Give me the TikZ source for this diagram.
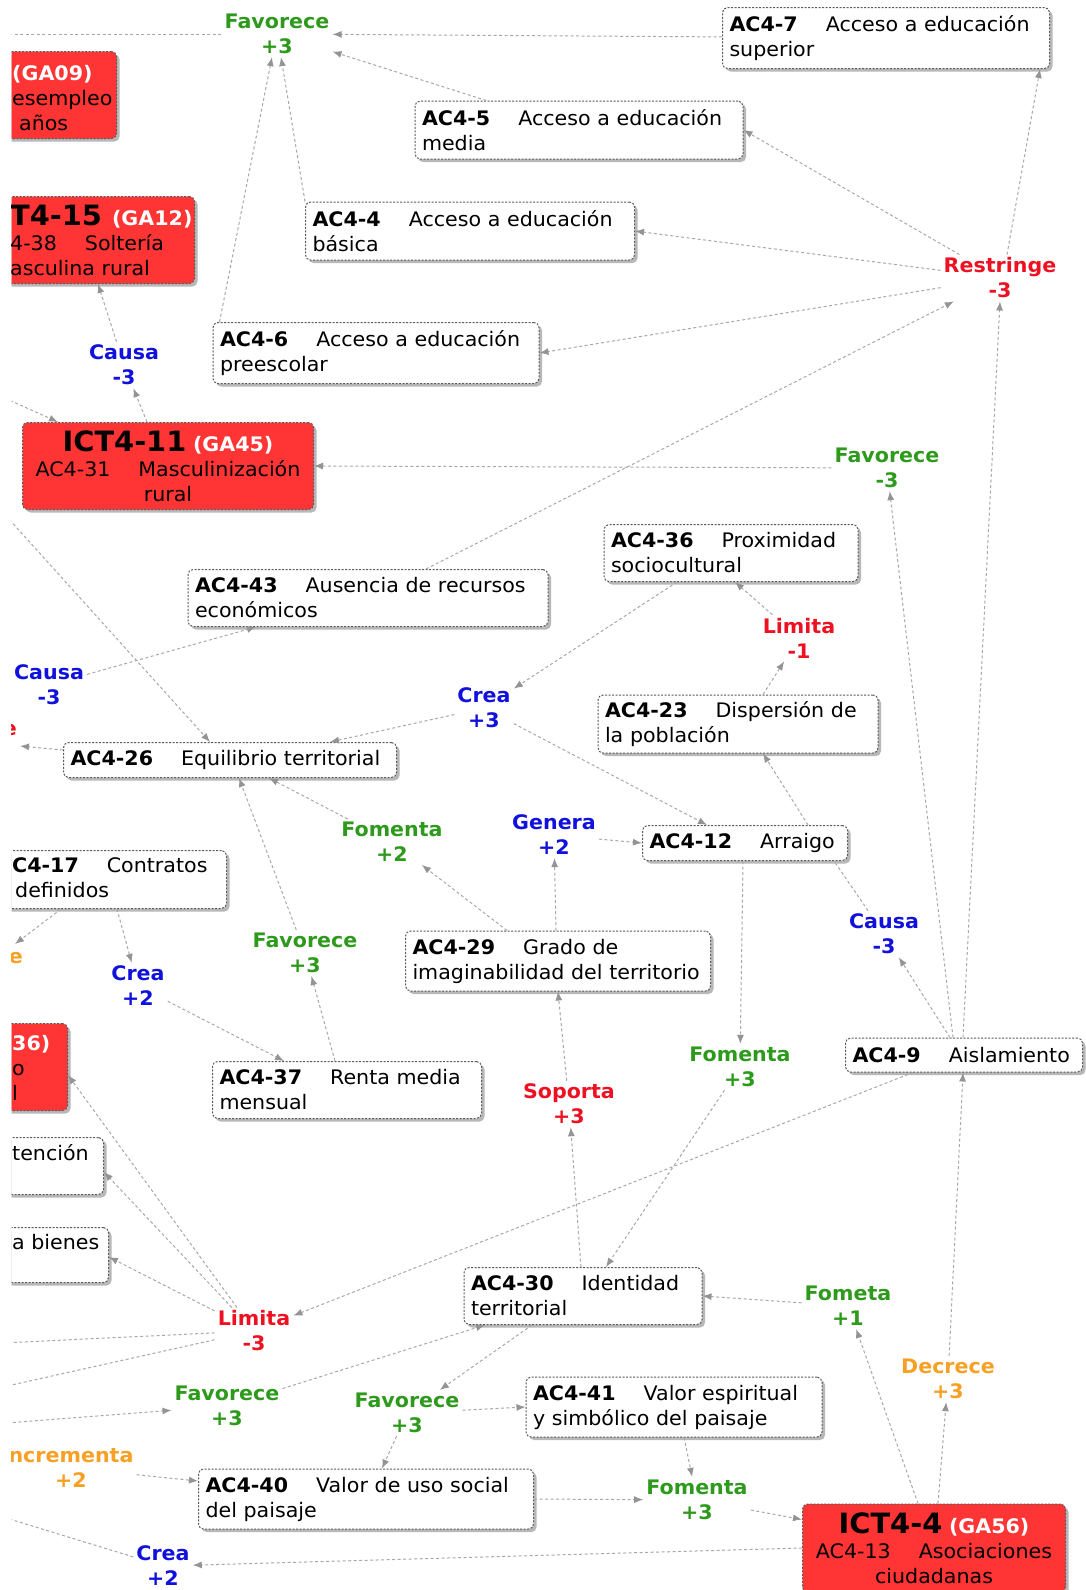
\documentclass[tikz,border=0pt]{standalone}
\usepackage{fontspec}
\setmainfont{DejaVu Sans}[FakeStretch=1.03]
\usetikzlibrary{arrows.meta,calc,shadows}
\definecolor{conceptred}{HTML}{FF3535}
\definecolor{boxline}{HTML}{5A5A5A}
\definecolor{linkgray}{HTML}{A8A8A8}
\definecolor{tipgray}{HTML}{949494}
\definecolor{lgreen}{HTML}{2E9A1C}
\definecolor{lblue}{HTML}{1111DD}
\definecolor{lred}{HTML}{EE1122}
\definecolor{lorange}{HTML}{F7A024}
\newcommand{\idgap}{\hspace{28pt}}
\newcommand{\ictfont}{\fontsize{28}{30}\selectfont\bfseries}
\newcommand{\gacode}[1]{{\color{white}\bfseries #1}}

\begin{document}
\begin{tikzpicture}[
  x=1pt, y=-1pt,
  font=\fontsize{20}{25}\selectfont,
  acbox/.style={
    draw=boxline,
    fill=white,
    rounded corners=5pt,
    line width=1pt,
    dash pattern=on 2pt off 1.5pt,
    inner xsep=7pt,
    inner ysep=4pt,
    align=left,
    drop shadow={shadow xshift=3pt, shadow yshift=-3pt, fill=black!28, opacity=1}
  },
  ictbox/.style={acbox, fill=conceptred, align=center},
  cuttext/.style={inner sep=0pt, align=left},
  link/.style={font=\fontsize{20}{25}\selectfont\bfseries, align=center, inner sep=3pt},
  rel/.style={
    draw=linkgray,
    line width=1pt,
    dash pattern=on 3pt off 2.5pt,
    -{Latex[length=9pt,width=7pt,color=tipgray]}
  },
  relline/.style={draw=linkgray, line width=1pt, dash pattern=on 3pt off 2.5pt}
]

  \useasboundingbox (0,0) rectangle (1086,1590);
  \fill[white] (0,0) rectangle (1086,1590);
  \clip (11.5,0) rectangle (1086,1590);

  % --- Concepts: access to education ---
  \node[acbox, text width=313pt, minimum height=61pt] (ac7) at (886,38)
    {\textbf{AC4-7}\idgap Acceso a educación\\superior};
  \node[acbox, text width=314pt, minimum height=58pt] (ac5) at (579,130)
    {\textbf{AC4-5}\idgap Acceso a educación\\media};
  \node[acbox, text width=315pt, minimum height=58pt] (ac4) at (470,231)
    {\textbf{AC4-4}\idgap Acceso a educación\\básica};
  \node[acbox, text width=312pt, minimum height=61pt] (ac6) at (376,353)
    {\textbf{AC4-6}\idgap Acceso a educación\\preescolar};

  % --- Concepts: middle of the map ---
  \node[acbox, text width=346pt, minimum height=57pt] (ac43) at (368,598)
    {\textbf{AC4-43}\idgap Ausencia de recursos\\económicos};
  \node[acbox, text width=240pt, minimum height=57pt] (ac36) at (731,553)
    {\textbf{AC4-36}\idgap Proximidad\\sociocultural};
  \node[acbox, text width=266pt, minimum height=58pt] (ac23) at (738,724)
    {\textbf{AC4-23}\idgap Dispersión de\\la población};
  \node[acbox, text width=319pt, minimum height=35pt] (ac26) at (230,760)
    {\textbf{AC4-26}\idgap Equilibrio territorial};
  \node[acbox, text width=191pt, minimum height=35pt] (ac12) at (745,843)
    {\textbf{AC4-12}\idgap Arraigo};
  \node[acbox, text width=291pt, minimum height=60pt] (ac29) at (558,961)
    {\textbf{AC4-29}\idgap Grado de\\imaginabilidad del territorio};
  \node[acbox, text width=223pt, minimum height=34pt] (ac9) at (964,1055)
    {\textbf{AC4-9}\idgap Aislamiento};
  \node[acbox, text width=255pt, minimum height=57pt] (ac37) at (347,1090)
    {\textbf{AC4-37}\idgap Renta media\\mensual};

  % --- Concepts: landscape ---
  \node[acbox, text width=224pt, minimum height=57pt] (ac30) at (583,1296)
    {\textbf{AC4-30}\idgap Identidad\\territorial};
  \node[acbox, text width=282pt, minimum height=60pt] (ac41) at (674,1407)
    {\textbf{AC4-41}\idgap Valor espiritual\\y simbólico del paisaje};
  \node[acbox, text width=321pt, minimum height=60pt] (ac40) at (366,1499)
    {\textbf{AC4-40}\idgap Valor de uso social\\del paisaje};

  % --- Key concepts (red) ---
  \node[ictbox, text width=277pt, minimum height=87pt] (ict11) at (168,466)
    {{\ictfont ICT4-11 }\gacode{(GA45)}\\AC4-31\idgap Masculinización\\rural};
  \node[ictbox, text width=249pt, minimum height=88pt] (ict4) at (934,1548)
    {{\ictfont ICT4-4 }\gacode{(GA56)}\\AC4-13\idgap Asociaciones\\ciudadanas};

  % --- Concepts cut by the left edge ---
  \node[acbox, fill=conceptred, minimum width=300pt, minimum height=87pt, anchor=north east] (rga09) at (117,51) {};
  \node[cuttext, anchor=north west] (rga09t) at (12,65)
    {\gacode{(GA09)}\\esempleo\\\hspace*{7pt}años};
  \node[acbox, fill=conceptred, minimum width=300pt, minimum height=87pt, anchor=north east] (rict15) at (195,196) {};
  \node[cuttext, anchor=north west] (rict15t) at (10,205)
    {{\ictfont T4-15 }\gacode{(GA12)}\\4-38\idgap Soltería\\asculina rural};
  \node[acbox, minimum width=300pt, minimum height=58pt, anchor=north east] (ac17) at (227,850) {};
  \node[cuttext, anchor=north west] (ac17t) at (12,857)
    {\textbf{C4-17}\idgap Contratos\\\hspace*{3pt}definidos};
  \node[acbox, fill=conceptred, minimum width=300pt, minimum height=87pt, anchor=north east] (r36) at (68,1023) {};
  \node[cuttext, anchor=north west] (r36t) at (12,1035)
    {\gacode{36)}\\o\\l};
  \node[acbox, minimum width=250pt, minimum height=57pt, anchor=north east] (rete) at (104,1137) {};
  \node[cuttext, anchor=base west] (retet) at (12,1160) {tención};
  \node[acbox, minimum width=250pt, minimum height=55pt, anchor=north east] (bien) at (109,1227) {};
  \node[cuttext, anchor=base west] (bient) at (12,1249) {a bienes};

  % --- Linking phrases ---
  \node[link, text=lgreen] (fav1) at (277,34) {Favorece\\+3};
  \node[link, text=lred] (res) at (1000,278) {Restringe\\-3};
  \node[link, text=lblue] (cau1) at (124,365) {Causa\\-3};
  \node[link, text=lgreen] (fav2) at (887,468) {Favorece\\-3};
  \node[link, text=lred] (lim1) at (799,638) {Limita\\-1};
  \node[link, text=lblue] (cau2) at (49,685) {Causa\\-3};
  \node[link, text=lblue] (cre1) at (484,708) {Crea\\+3};
  \node[link, text=lred, anchor=east, inner sep=0pt] (cutr) at (17,730) {e};
  \node[link, text=lgreen] (fom1) at (392,842) {Fomenta\\+2};
  \node[link, text=lblue] (gen) at (554,835) {Genera\\+2};
  \node[link, text=lorange, anchor=east, inner sep=0pt] (cuto) at (23,958) {e};
  \node[link, text=lblue] (cre2) at (138,986) {Crea\\+2};
  \node[link, text=lgreen] (fav3) at (305,953) {Favorece\\+3};
  \node[link, text=lblue] (cau3) at (884,934) {Causa\\-3};
  \node[link, text=lgreen] (fom2) at (740,1067) {Fomenta\\+3};
  \node[link, text=lred] (sop) at (569,1104) {Soporta\\+3};
  \node[link, text=lred] (lim2) at (254,1331) {Limita\\-3};
  \node[link, text=lgreen] (fomt) at (848,1306) {Fometa\\+1};
  \node[link, text=lorange] (dec) at (948,1379) {Decrece\\+3};
  \node[link, text=lgreen] (fav4) at (227,1406) {Favorece\\+3};
  \node[link, text=lgreen] (fav5) at (407,1413) {Favorece\\+3};
  \node[link, text=lorange] (inc) at (71,1468) {ncrementa\\+2};
  \node[link, text=lgreen] (fom3) at (697,1500) {Fomenta\\+3};
  \node[link, text=lblue] (cre3) at (163,1566) {Crea\\+2};

  % free ends beyond the left edge
  \coordinate (offA) at (-20,34);
  \coordinate (offB) at (-20,387);
  \coordinate (offC) at (-20,487);
  \coordinate (offD) at (-20,1344);
  \coordinate (offE) at (-20,1392);
  \coordinate (offF) at (-20,1425);
  \coordinate (offG) at (-20,1510);

  % --- Connectors: top ---
  \draw[rel] (ac7) -- (fav1);
  \draw[rel] (ac5) -- (fav1);
  \draw[rel] (ac4.north west) -- ([xshift=4pt]fav1.south);
  \draw[rel] ([xshift=7pt]ac6.north west) -- ([xshift=-5pt]fav1.south);
  \draw[relline] (fav1) -- (offA);
  \draw[rel] ([xshift=7pt]res.north) -- ([xshift=-10pt]ac7.south east);
  \draw[rel] (res) -- (ac5.east);
  \draw[rel] (res) -- (ac4.east);
  \draw[rel] (res) -- (ac6.east);
  \draw[rel] ([xshift=58pt]ac43.north) -- (res);
  \draw[rel] ([xshift=-1pt]ac9.north) -- (res.south);

  % --- Connectors: ICT4-11 ---
  \draw[rel] (offB) -- ([xshift=36pt]ict11.north west);
  \draw[rel] ([xshift=-21pt]ict11.north) -- (cau1);
  \draw[rel] (cau1) -- ([xshift=-97pt]rict15.south east);
  \draw[rel] (fav2) -- (ict11.east);
  \draw[rel] ([xshift=-11pt]ac9.north) -- (fav2);

  % --- Connectors: middle ---
  \draw[rel] (offC) -- ([xshift=-20pt]ac26.north);
  \draw[rel] (cau2) -- ([xshift=-112pt]ac43.south);
  \draw[rel] ([xshift=-54pt]ac36.south) -- (cre1);
  \draw[rel] (cre1) -- ([xshift=100pt]ac26.north);
  \draw[rel] (cre1) -- ([xshift=-38pt]ac12.north);
  \draw[rel] ([xshift=25pt]ac23.north) -- (lim1);
  \draw[rel] (lim1) -- ([xshift=4pt]ac36.south);
  \draw[rel] ([xshift=63pt]ac12.north) -- ([xshift=25pt]ac23.south);
  \draw[rel] ([yshift=10pt]ac26.west) -- ([xshift=3pt,yshift=-16pt]cutr.east);
  \draw[rel] ([xshift=-51pt]ac29.north) -- (fom1);
  \draw[rel] (fom1) -- ([xshift=39pt]ac26.south);
  \draw[rel] ([xshift=-2pt]ac29.north) -- (gen);
  \draw[rel] (gen) -- (ac12.west);
  \draw[rel] ([xshift=-166pt]ac17.south east) -- ([xshift=-8pt,yshift=14pt]cuto.east);
  \draw[rel] ([xshift=-110pt]ac17.south east) -- (cre2);
  \draw[rel] (cre2) -- ([xshift=-63pt]ac37.north);
  \draw[rel] ([xshift=-12pt]ac37.north) -- (fav3);
  \draw[rel] (fav3) -- ([xshift=9pt]ac26.south);
  \draw[rel] ([xshift=-14pt]ac9.north) -- (cau3);
  \draw[relline] (cau3) -- ([xshift=-14pt]ac12.south east);
  \draw[rel] ([xshift=-2pt]ac12.south) -- (fom2);
  \draw[rel] (fom2) -- ([xshift=23pt]ac30.north);
  \draw[rel] ([xshift=-2pt]ac30.north) -- (sop);
  \draw[rel] (sop) -- (ac29.south);

  % --- Connectors: lower ---
  \draw[rel] ([xshift=-51pt]ac9.south) -- (lim2);
  \draw[rel] (lim2) -- ([yshift=-8pt]r36.east);
  \draw[rel] (lim2) -- ([yshift=-6pt]rete.east);
  \draw[rel] (lim2) -- ([yshift=-2pt]bien.east);
  \draw[rel] (lim2) -- (offD);
  \draw[rel] (lim2) -- (offE);
  \draw[rel] ([xshift=-16pt]ict4.north) -- (fomt);
  \draw[rel] (fomt) -- (ac30.east);
  \draw[rel] ([xshift=4pt]ict4.north) -- (dec);
  \draw[rel] (dec) -- ([xshift=-1pt]ac9.south);
  \draw[rel] (offF) -- (fav4);
  \draw[rel] (fav4) -- ([xshift=-98pt]ac30.south);
  \draw[rel] ([xshift=-51pt]ac30.south) -- (fav5);
  \draw[rel] (fav5) -- (ac41.west);
  \draw[rel] (fav5) -- ([xshift=16pt]ac40.north);
  \draw[rel] (inc) -- ([yshift=18pt]ac40.west);
  \draw[rel] ([xshift=10pt]ac41.south) -- (fom3);
  \draw[rel] (ac40.east) -- (fom3);
  \draw[rel] (fom3) -- ([yshift=-16pt]ict4.north west);
  \draw[rel] (ict4.west) -- (cre3);
  \draw[rel] (cre3) -- (offG);

\end{tikzpicture}
\end{document}
